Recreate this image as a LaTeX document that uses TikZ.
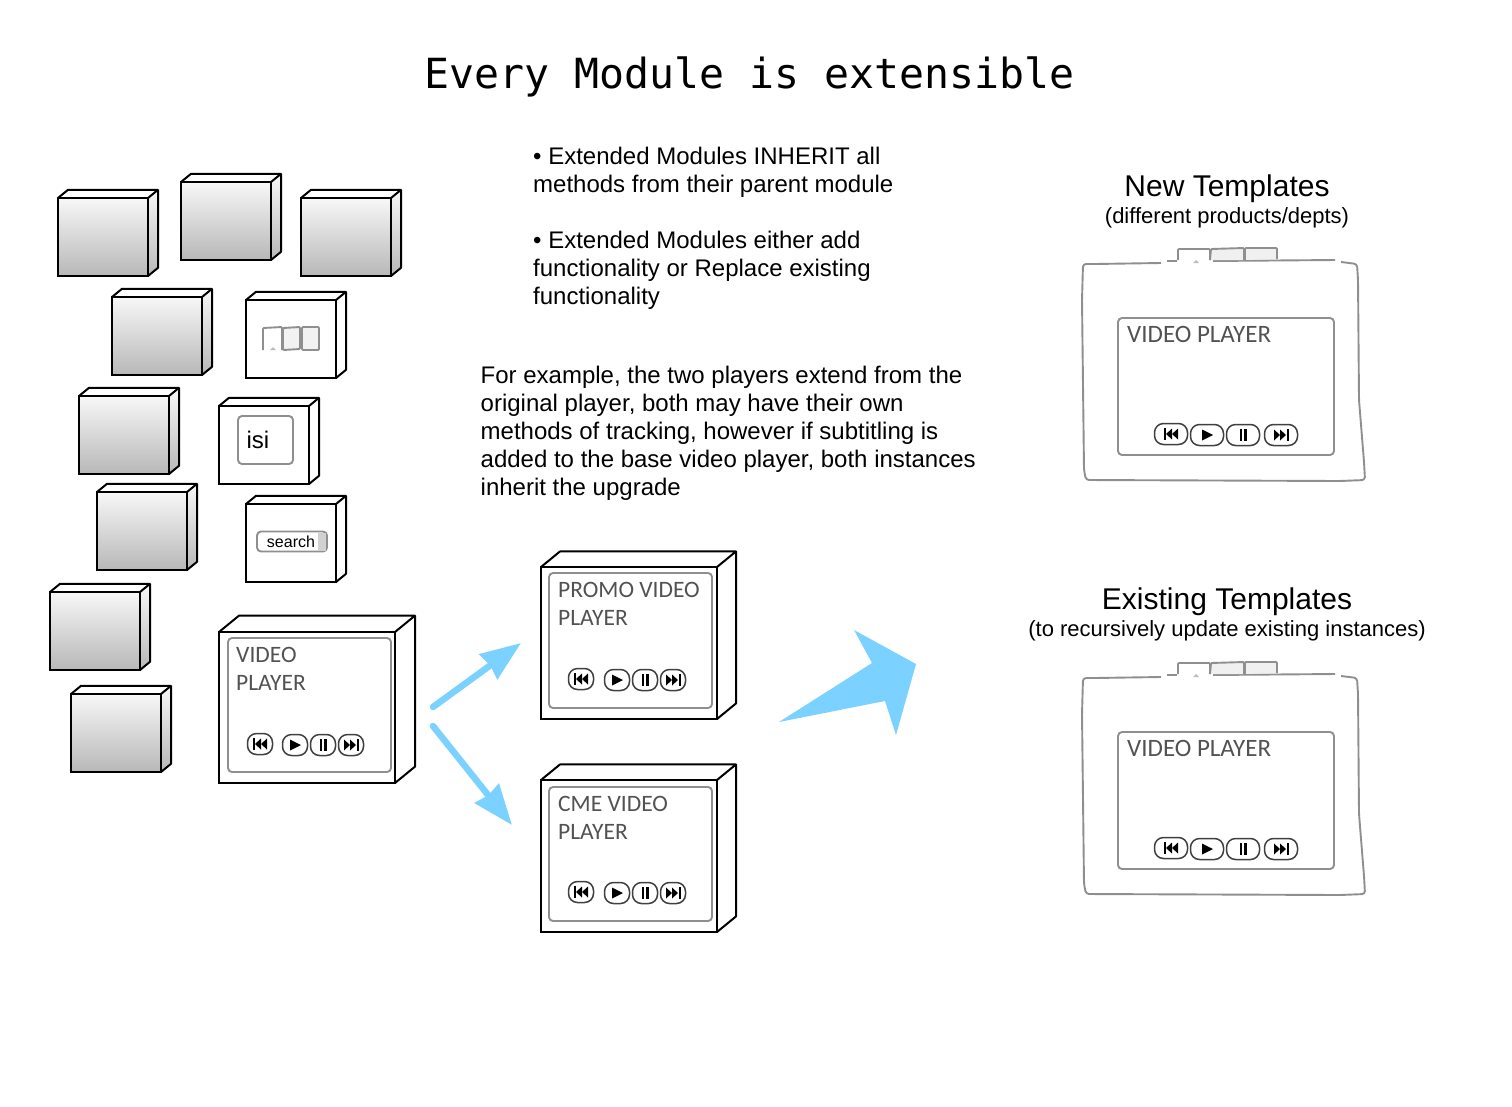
\documentclass[tikz,border=0pt]{standalone}
\usepackage{fontspec}
\setmainfont{Liberation Sans}
\newfontfamily\titlefont{DejaVu Sans Mono}
\newfontfamily\handfont{Carlito}
\usetikzlibrary{arrows.meta}
\definecolor{arrowblue}{HTML}{7BD1FF}
\definecolor{sketchgrey}{gray}{0.56}
\tikzset{
  modulefront/.style = {draw = black, line width = 2pt, outer sep = 0pt, inner sep = 0pt, anchor = north west},
  moduleplain/.style = {fill = white},
  moduleshaded/.style = {top color = black!3, bottom color = black!28},
  sketchline/.style = {draw = sketchgrey, line width = 1.9pt, line join = round, rounded corners = 3pt},
  panelbox/.style = {sketchline, rounded corners = 4pt, outer sep = 0pt, inner sep = 0pt, anchor = north west},
  playerbtn/.style = {draw = black!75, line width = 1.5pt, rounded corners = 9pt, outer sep = 0pt, inner sep = 0pt, fill = white},
  bigtext/.style = {font = \fontsize{30}{34}\selectfont},
  bodytext/.style = {font = \fontsize{24}{28}\selectfont, align = left, anchor = north west, inner sep = 0pt},
  subtext/.style = {font = \fontsize{22}{26}\selectfont},
  handtext/.style = {font = \handfont\fontsize{23.5}{28}\selectfont, text = black!68, align = left, anchor = north west, inner sep = 0pt},
  extendarrow/.style = {draw = arrowblue, line width = 6.5pt, line cap = round, -{Stealth[length = 40pt, width = 30pt, inset = 2pt]}},
  previcon/.pic = {\fill (-7.5,-6) rectangle (-5.5,6); \fill (-5,0) -- (1,-5.5) -- (1,5.5) -- cycle; \fill (1,0) -- (7,-5.5) -- (7,5.5) -- cycle;},
  nexticon/.pic = {\fill (7.5,-6) rectangle (5.5,6); \fill (5,0) -- (-1,-5.5) -- (-1,5.5) -- cycle; \fill (-1,0) -- (-7,-5.5) -- (-7,5.5) -- cycle;},
  playicon/.pic = {\fill (-5,-5.5) -- (6,0) -- (-5,5.5) -- cycle;},
  pauseicon/.pic = {\fill (-3.5,-6) rectangle (-1,6); \fill (1,-6) rectangle (3.5,6);}
}
% name, left, top, width, height, depth, fill style
\newcommand{\modulebox}[7]{
  \fill[white] (#2,#3) -- ++(#6,-0.82*#6) -- ++(#4,0) -- ++(-#6,0.82*#6) -- cycle;
  \path[#7] (#2+#4,#3) -- ++(#6,-0.82*#6) -- ++(0,#5) -- ++(-#6,0.82*#6) -- cycle;
  \draw[line width = 2pt, line join = round] (#2,#3) -- ++(#6,-0.82*#6) -- ++(#4,0) -- ++(0,#5) -- ++(-#6,0.82*#6) (#2+#4,#3) -- ++(#6,-0.82*#6);
  \node[modulefront, #7, minimum width = #4 pt, minimum height = #5 pt] (#1) at (#2,#3) {};
}
% name, y, x of the four buttons, button width
\newcommand{\playerrow}[7]{
  \node[playerbtn, minimum width = #7 pt, minimum height = 21pt] (#1prev) at (#3,#2) {};
  \node[playerbtn, minimum width = #7 pt, minimum height = 21pt] (#1play) at (#4,#2+1) {};
  \node[playerbtn, minimum width = #7 pt, minimum height = 21pt] (#1pause) at (#5,#2+1) {};
  \node[playerbtn, minimum width = #7 pt, minimum height = 21pt] (#1next) at (#6,#2+1) {};
  \pic at (#1prev) {previcon};
  \pic at (#1play) {playicon};
  \pic at (#1pause) {pauseicon};
  \pic at (#1next) {nexticon};
}
\begin{document}
\begin{tikzpicture}[x = 1pt, y = -1pt]
\useasboundingbox (0,0) rectangle (1512,1106);
\node[font = \titlefont\fontsize{41.5}{46}\selectfont] (title) at (749.5,77) {Every Module is extensible};

\foreach \name/\x/\y in {modA/58/198, modB/181/182, modC/301/198, modD/112/297, modE/79/396, modF/97/492, modG/50/592, modH/71/694}
  \modulebox{\name}{\x}{\y}{90}{78}{10}{moduleshaded};
\modulebox{modTabs}{246}{300}{90}{78}{10}{moduleplain};
\modulebox{modIsi}{219}{406}{90}{78}{10}{moduleplain};
\modulebox{modSearch}{246}{504}{90}{78}{10}{moduleplain};
\modulebox{video}{219}{632}{176}{151}{20}{moduleplain};
\modulebox{promo}{541}{567}{176}{152}{19}{moduleplain};
\modulebox{cme}{541}{780}{176}{152}{19}{moduleplain};

% small contents
\draw[sketchline, rounded corners = 1pt] (263,350) -- (263,328) -- (282,327) -- (282,350);
\fill[sketchgrey!60] (270,350) -- (273,347) -- (276,350) -- cycle;
\draw[sketchline, fill = black!5, rounded corners = 1pt] (283,328) -- (300,327) -- (300,349) -- (283,350) -- cycle;
\draw[sketchline, fill = black!5, rounded corners = 1pt] (302,327) -- (319,327) -- (319,350) -- (302,350) -- cycle;
\node[panelbox, minimum width = 55pt, minimum height = 48pt] (isiPanel) at (238,416) {};
\node[font = \fontsize{24}{28}\selectfont] (isiText) at (258,440) {isi};
\node[panelbox, minimum width = 70pt, minimum height = 20pt] (searchPanel) at (257,531.5) {};
\fill[black!18] (318,533) rectangle (326,551);
\node[font = \fontsize{16}{18}\selectfont] (searchText) at (291,542) {search};

% video players
\node[panelbox, minimum width = 163pt, minimum height = 134pt] (videoPanel) at (228,638) {};
\node[panelbox, minimum width = 163pt, minimum height = 135pt] (promoPanel) at (549,573) {};
\node[panelbox, minimum width = 163pt, minimum height = 134pt] (cmePanel) at (549,787) {};
\node[handtext] (videoLabel) at (236,647) {VIDEO\\PLAYER};
\node[handtext] (promoLabel) at (558,582) {PROMO VIDEO\\PLAYER};
\node[handtext] (cmeLabel) at (558,796) {CME VIDEO\\PLAYER};
\playerrow{video}{744}{260}{295}{323}{351}{25}
\playerrow{promo}{679}{581}{617}{645}{673}{25}
\playerrow{cme}{892}{581}{617}{645}{673}{25}

% arrows
\coordinate (videoOutA) at (433,707);
\coordinate (promoIn) at (521,643);
\coordinate (videoOutB) at (433,726);
\coordinate (cmeIn) at (512,825);
\draw[extendarrow] (videoOutA) -- (promoIn);
\draw[extendarrow] (videoOutB) -- (cmeIn);
\fill[arrowblue] (779,722) -- (872,663) -- (854,630) -- (916,664) -- (896,735) -- (885,701) -- cycle;

% text
\node[bodytext] (inheritText) at (533,147) {• Extended Modules INHERIT all\\methods from their parent module};
\node[bodytext] (replaceText) at (533,231) {• Extended Modules either add\\functionality or Replace existing\\functionality};
\node[bodytext] (exampleText) at (480.5,366) {For example, the two players extend from the\\original player, both may have their own\\methods of tracking, however if subtitling is\\added to the base video player, both instances\\inherit the upgrade};
\node[bigtext] (newTitle) at (1227,189) {New Templates};
\node[subtext] (newSub) at (1227,218) {(different products/depts)};
\node[bigtext] (oldTitle) at (1227,602) {Existing Templates};
\node[subtext] (oldSub) at (1227,631) {(to recursively update existing instances)};

% templates
\foreach \tpl/\oy in {newTpl/0, oldTpl/414} {
  \begin{scope}[shift = {(0,\oy)}]
  \draw[sketchline] (1161,263) -- (1095,264) -- (1083,264) -- (1082,300) -- (1084,470) -- (1086,480) -- (1340,481) -- (1365,480) -- (1364,462) -- (1359,400) -- (1358,280) -- (1357,264) -- (1341,262);
  \draw[sketchline] (1167,261) -- (1177,261);
  \draw[sketchline] (1213,261) -- (1335,260);
  \draw[sketchline, rounded corners = 1pt] (1178,260) -- (1178,249) -- (1210,249) -- (1210,260);
  \fill[sketchgrey!60] (1193,263) -- (1196,260) -- (1199,263) -- cycle;
  \draw[sketchline, fill = black!6, rounded corners = 1pt] (1210,260) -- (1211,249) -- (1244,248) -- (1244,260);
  \draw[sketchline, fill = black!6, rounded corners = 1pt] (1245,260) -- (1245,248) -- (1277,248) -- (1277,259);
  \node[panelbox, minimum width = 216pt, minimum height = 137pt] (\tpl Panel) at (1118,318) {};
  \node[handtext, font = \handfont\fontsize{25}{28}\selectfont] (\tpl Label) at (1127,326) {VIDEO PLAYER};
  \playerrow{\tpl}{434}{1171}{1207}{1243}{1281}{33}
  \end{scope}
}
\end{tikzpicture}
\end{document}
